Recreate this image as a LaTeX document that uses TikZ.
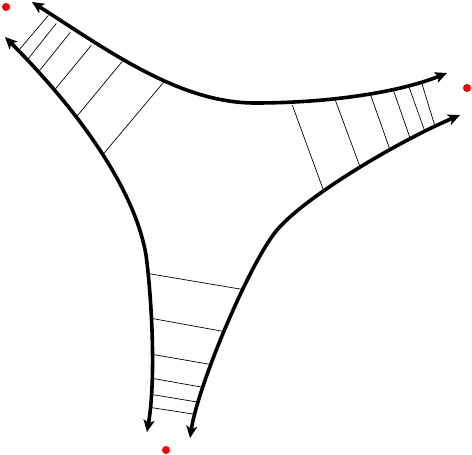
\documentclass[tikz,border=0pt]{standalone}
\usetikzlibrary{arrows.meta}

\begin{document}
\begin{tikzpicture}[x=1pt,y=-1pt,
    side/.style={line width=3.6pt, {Stealth[length=12pt,width=11pt,inset=3pt]}-{Stealth[length=12pt,width=11pt,inset=3pt]}},
    rung/.style={line width=0.7pt, shorten <=-2pt, shorten >=-2pt},
    cusp/.style={shape=circle, fill=red, inner sep=0pt, minimum size=8pt}]
                \useasboundingbox (0,0) rectangle (472,455);

                \node[cusp] (p) at (6,7) {};
                \node[cusp] (q) at (467,88) {};
                \node[cusp] (r) at (166,450) {};

                % rungs near p
                \draw[rung] (19,50) -- (47,17);
                \draw[rung] (28,59) -- (55,25);
                \draw[rung] (40,70) -- (69,34);
                \draw[rung] (57,87) -- (90,47);
                \draw[rung] (78,115) -- (121,63);
                \draw[rung] (105,152) -- (163,83);

                % rungs near q
                \draw[rung] (293,107) -- (323,189);
                \draw[rung] (336,102) -- (359,164);
                \draw[rung] (371,96) -- (389,147);
                \draw[rung] (394,92) -- (409,135);
                \draw[rung] (409,87) -- (424,129);
                \draw[rung] (422,84) -- (434,123);

                % rungs near r
                \draw[rung] (151,274) -- (240,289);
                \draw[rung] (155,319) -- (221,331);
                \draw[rung] (156,355) -- (208,364);
                \draw[rung] (156,379) -- (201,387);
                \draw[rung] (155,395) -- (197,402);
                \draw[rung] (154,408) -- (193,414);

                % the three sides
                \draw[side] (32,2) .. controls (110,52) and (180,103) .. (255,103)
                    .. controls (330,103) and (400,92) .. (447,73);
                \draw[side] (5,37) .. controls (65,97) and (133,180) .. (146,255)
                    .. controls (152,300) and (156,380) .. (147,432);
                \draw[side] (190,438) .. controls (198,385) and (250,262) .. (277,230)
                    .. controls (305,197) and (395,143) .. (460,115);
\end{tikzpicture}
\end{document}
